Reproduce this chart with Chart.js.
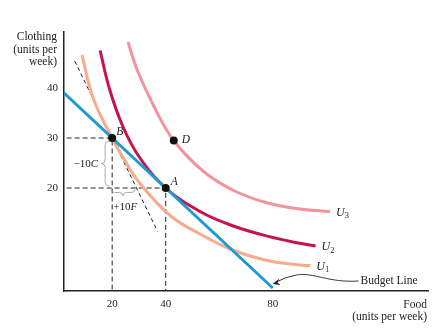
<!DOCTYPE html>
<html>
<head>
<meta charset="utf-8">
<script src="https://cdn.jsdelivr.net/npm/chart.js@4/dist/chart.umd.min.js"></script>
<style>
html,body{margin:0;padding:0;background:#fff;}
</style>
</head>
<body>
<canvas id="c" width="442" height="332"></canvas>
<script>
/* Data */

const xTicks=[20,40,80];
const yTicks=[20,30,40];

const budgetFood=[0,80];
const budgetCloth=[40,0];

const u1Food=[8.7,13,20,25,30.4,41.6,52.8,65,78,90,94];
const u1Cloth=[46.6,37.8,30,25.25,20.9,14.5,10.8,7.6,5.5,4.6,4.5];

const u2Food=[15.5,19,24,30,40,52.8,65,78,90,96];
const u2Cloth=[47.5,39.8,32.3,26.3,20,15.3,12.45,10.37,8.95,8.4];

const u3Food=[25.9,29.5,36,43,53.9,65.2,77.7,90.2,101.4];
const u3Cloth=[49.2,43.4,35.9,29.5,23.4,19.55,17.05,15.8,15.3];

const tangentFood=[6,37];
const tangentCloth=[45.4,11.3];

const bundleNames=["B","A","D"];
const bundleFood=[20,40,43];
const bundleCloth=[30,20,29.5];

const curveNames=["1","2","3"];

/* Colors */

const blue="#1b9ad6";
const salmon="#f8aa8b";
const crimson="#c8124f";
const pink="#f3949c";
const ink="#222";
const serif="'Liberation Serif', serif";

function pts(xs,ys){
return xs.map((v,i)=>({x:v,y:ys[i]}));
}

function curve(xs,ys,color){
return {
data:pts(xs,ys),
showLine:true,
borderColor:color,
borderWidth:3,
pointRadius:0,
fill:false,
tension:0.4,
order:2
};
}

function dashed(xs,ys,dash){
return {
data:pts(xs,ys),
showLine:true,
borderColor:ink,
borderWidth:1,
borderDash:dash,
pointRadius:0,
fill:false,
order:5
};
}

/* Guides from the axes to B and A */

const guideBFood=[0,bundleFood[0],bundleFood[0]];
const guideBCloth=[bundleCloth[0],bundleCloth[0],-1];
const guideAFood=[0,bundleFood[1],bundleFood[1]];
const guideACloth=[bundleCloth[1],bundleCloth[1],-1];

/* Text and brace overlay */

function brace(ctx,x1,y1,x2,y2,w,vertical){
ctx.beginPath();
if(vertical){
const m=(y1+y2)/2, h=w/2;
ctx.moveTo(x1,y1);
ctx.quadraticCurveTo(x1-h,y1,x1-h,y1+h);
ctx.lineTo(x1-h,m-h);
ctx.quadraticCurveTo(x1-h,m,x1-w,m);
ctx.quadraticCurveTo(x1-h,m,x1-h,m+h);
ctx.lineTo(x1-h,y2-h);
ctx.quadraticCurveTo(x1-h,y2,x1,y2);
}else{
const m=(x1+x2)/2, h=w/2;
ctx.moveTo(x1,y1);
ctx.quadraticCurveTo(x1,y1+h,x1+h,y1+h);
ctx.lineTo(m-h,y1+h);
ctx.quadraticCurveTo(m,y1+h,m,y1+w);
ctx.quadraticCurveTo(m,y1+h,m+h,y1+h);
ctx.lineTo(x2-h,y1+h);
ctx.quadraticCurveTo(x2,y1+h,x2,y1);
}
ctx.stroke();
}

function mixed(ctx,parts,x,y,align){
let total=0;
parts.forEach(p=>{ctx.font=p.font;total+=ctx.measureText(p.text).width;});
let cx=align==="right"?x-total:x;
ctx.textAlign="left";
parts.forEach(p=>{
ctx.font=p.font;
ctx.fillText(p.text,cx,y+(p.dy||0));
cx+=ctx.measureText(p.text).width;
});
}

const overlay={
id:"overlay",
afterDatasetsDraw(chart){
const {ctx,chartArea:a,scales:{x,y}}=chart;
ctx.save();
ctx.fillStyle=ink;
ctx.textBaseline="alphabetic";

/* axis titles */
ctx.font="11.5px "+serif;
ctx.textAlign="right";
ctx.fillText("Clothing",a.left-7,a.top+8);
ctx.fillText("(units per",a.left-7,a.top+21);
ctx.fillText("week)",a.left-7,a.top+33);
ctx.fillText("Food",a.right-1,a.bottom+17);
ctx.fillText("(units per week)",a.right-1,a.bottom+29);

/* bundle labels */
const off=[[4,-3],[5,-3],[8,2]];
ctx.font="italic 11.5px "+serif;
ctx.textAlign="left";
bundleNames.forEach((n,i)=>{
ctx.fillText(n,x.getPixelForValue(bundleFood[i])+off[i][0],y.getPixelForValue(bundleCloth[i])+off[i][1]);
});

/* curve labels */
const ends=[[u1Food,u1Cloth],[u2Food,u2Cloth],[u3Food,u3Cloth]];
ends.forEach((c,i)=>{
const px=x.getPixelForValue(c[0][c[0].length-1])+6;
const py=y.getPixelForValue(c[1][c[1].length-1])+4;
mixed(ctx,[
{text:"U",font:"italic 12px "+serif},
{text:curveNames[i],font:"8.5px "+serif,dy:2.5}
],px,py,"left");
});

/* braces */
ctx.strokeStyle="#a8a8a8";
ctx.lineWidth=1;
const bx=x.getPixelForValue(bundleFood[0]);
const by=y.getPixelForValue(bundleCloth[0]);
const ay=y.getPixelForValue(bundleCloth[1]);
brace(ctx,bx-3,by+3,bx-3,ay-2,8,true);
brace(ctx,bx-1,ay+1,x.getPixelForValue(28.5),ay+1,7,false);

mixed(ctx,[
{text:"\u221210",font:"11px "+serif},
{text:"C",font:"italic 11px "+serif}
],bx-14,(by+ay)/2+4,"right");
mixed(ctx,[
{text:"+10",font:"11px "+serif},
{text:"F",font:"italic 11px "+serif}
],bx+1,ay+22,"left");

/* Budget Line pointer */
const tx=x.getPixelForValue(78.4)+4;
const ty=y.getPixelForValue(0.8);
const sx=tx+86, sy=ty-3;
ctx.strokeStyle=ink;
ctx.lineWidth=0.9;
ctx.beginPath();
ctx.moveTo(sx,sy);
ctx.bezierCurveTo(sx-30,sy+2,sx-45,sy-9,sx-62,sy-6);
ctx.quadraticCurveTo(tx+12,sy-4,tx+3,ty-1.5);
ctx.stroke();
ctx.beginPath();
ctx.moveTo(tx,ty);
ctx.lineTo(tx+7,ty-5.5);
ctx.lineTo(tx+5,ty-1.5);
ctx.lineTo(tx+8,ty+1);
ctx.closePath();
ctx.fillStyle=ink;
ctx.fill();
ctx.font="11.5px "+serif;
ctx.textAlign="left";
ctx.fillText("Budget Line",sx+2,sy+3);

ctx.restore();
}
};

/* Chart */

const chart=new Chart(document.getElementById("c"),{
type:"scatter",
data:{
datasets:[
{
data:pts(bundleFood,bundleCloth),
pointRadius:4,
pointBackgroundColor:"#111",
pointBorderWidth:0,
order:0
},
{
data:pts(budgetFood,budgetCloth),
showLine:true,
borderColor:blue,
borderWidth:3,
pointRadius:0,
fill:false,
order:1
},
curve(u1Food,u1Cloth,salmon),
curve(u2Food,u2Cloth,crimson),
curve(u3Food,u3Cloth,pink),
dashed(tangentFood,tangentCloth,[4,3]),
dashed(guideBFood,guideBCloth,[5,3]),
dashed(guideAFood,guideACloth,[5,3])
]
},
options:{
responsive:false,
animation:false,
events:[],
layout:{padding:{top:32,right:14,left:0,bottom:0}},
plugins:{legend:{display:false},tooltip:{enabled:false}},
scales:{
x:{
type:"linear",
min:2,
max:138,
grid:{display:false,drawTicks:false},
border:{display:true,color:ink,width:1.5},
afterBuildTicks:s=>{s.ticks=xTicks.map(v=>({value:v}));},
afterFit:s=>{s.height=41;},
ticks:{padding:7,color:ink,font:{family:serif,size:11}}
},
y:{
type:"linear",
min:-0.6,
max:51.2,
grid:{display:false,drawTicks:false},
border:{display:true,color:ink,width:1.5},
afterBuildTicks:s=>{s.ticks=yTicks.map(v=>({value:v}));},
afterFit:s=>{s.width=64;},
ticks:{padding:6,color:ink,font:{family:serif,size:11}}
}
}
},
plugins:[overlay]
});
</script>
</body>
</html>
